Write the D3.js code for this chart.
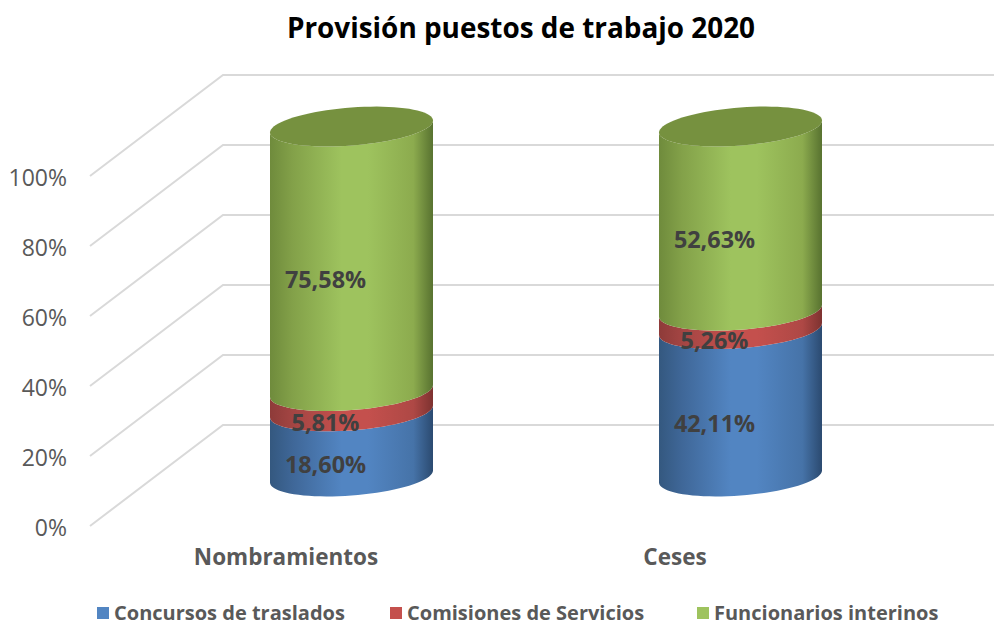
<!DOCTYPE html>
<html><head><meta charset="utf-8">
<script src="https://cdnjs.cloudflare.com/ajax/libs/d3/7.8.5/d3.min.js"></script>
<style>html,body{margin:0;padding:0;background:#fff}svg{display:block;font-family:"Open Sans","Noto Sans",sans-serif}</style>
</head><body><svg id="c" width="994" height="621"></svg>
<script>
const title = "Provisión puestos de trabajo 2020";
const categories = ["Nombramientos", "Ceses"];
const seriesNames = ["Concursos de traslados", "Comisiones de Servicios", "Funcionarios interinos"];
const traslados = [18.60, 42.11];
const comisiones = [5.81, 5.26];
const interinos = [75.58, 52.63];
const axisTicks = [0, 20, 40, 60, 80, 100];
const colors = [
  ["#34587f", "#3f6798", "#5285c2", "#5285c2", "#4673a8", "#2b4a70"],
  ["#8e3b39", "#a34543", "#c4504d", "#c4504d", "#ae4845", "#7d3230"],
  ["#6f8b3c", "#83a149", "#9ec35e", "#9ec35e", "#8cab4e", "#587230"]
];
const stopAt = [0, 0.14, 0.44, 0.6, 0.88, 1];
const topColor = "#76913f";

const svg = d3.select("#c");
const fmt = v => v.toFixed(2).replace(".", ",") + "%";
const y = d3.scaleLinear().domain([0, 100]).range([526, 176]);
const x = d3.scaleBand().domain(categories).range([157, 935]);
const depthX = 133, depthY = 101, wallLeft = 90, wallRight = 994;
const rx = x.bandwidth() * 0.2095, ry = 19, tilt = 6, lift = 49.5;

svg.append("text").attr("x", 521).attr("y", 38).attr("text-anchor", "middle")
  .attr("font-size", 27.9).attr("font-weight", 700).attr("fill", "#000").text(title);

const grid = svg.append("g").attr("fill", "none").attr("stroke", "#d9d9d9").attr("stroke-width", 2);
axisTicks.forEach(t => {
  grid.append("path").attr("d", d3.line()([
    [wallLeft, y(t)], [wallLeft + depthX, y(t) - depthY], [wallRight, y(t) - depthY]
  ]));
});

const ax = svg.append("g").attr("transform", `translate(${wallLeft - 15},7)`)
  .call(d3.axisLeft(y).tickValues(axisTicks).tickSize(0).tickPadding(8).tickFormat(d => d + "%"));
ax.select(".domain").remove();
ax.selectAll("text").attr("font-size", 23).attr("fill", "#595959")
  .attr("font-family", '"Open Sans","Noto Sans",sans-serif').attr("dy", "0.1em");

const defs = svg.append("defs");
colors.forEach((c, i) => {
  const g = defs.append("linearGradient").attr("id", "g" + i);
  stopAt.forEach((o, k) => g.append("stop").attr("offset", o).attr("stop-color", c[k]));
});

const arc = (cx, cy, rev) => {
  const ts = d3.range(0, 41).map(i => Math.PI * i / 40);
  const pts = ts.map(t => [cx + rx * Math.cos(t), cy - tilt * Math.cos(t) + ry * Math.sin(t)]);
  return rev ? pts : pts.reverse();
};
const series = [traslados, comisiones, interinos];
categories.forEach((cat, ci) => {
  const cx = x(cat) + x.bandwidth() / 2;
  let base = 0;
  series.forEach((s, si) => {
    const v0 = base, v1 = base + s[ci];
    const cy0 = y(v0) - lift, cy1 = y(v1) - lift;
    const pts = arc(cx, cy0, false).concat(arc(cx, cy1, true));
    svg.append("path").attr("d", d3.line()(pts) + "Z").attr("fill", `url(#g${si})`);
    base = v1;
  });
  const cy = y(base) - lift;
  const cap = d3.range(0, 81).map(i => {
    const t = 2 * Math.PI * i / 80;
    return [cx + rx * Math.cos(t), cy - tilt * Math.cos(t) + ry * Math.sin(t)];
  });
  svg.append("path").attr("d", d3.line()(cap) + "Z").attr("fill", topColor);
  base = 0;
  series.forEach(s => {
    const mid = base + s[ci] / 2;
    svg.append("text").attr("x", cx - 26).attr("y", y(mid) - lift + 21).attr("dy", "0.36em")
      .attr("text-anchor", "middle").attr("font-size", 23.4).attr("font-weight", 700)
      .attr("fill", "#404040").text(fmt(s[ci]));
    base += s[ci];
  });
  svg.append("text").attr("x", cx - 65.5).attr("y", 565)
    .attr("text-anchor", "middle").attr("font-size", 22.5).attr("font-weight", 700)
    .attr("fill", "#595959").text(cat);
});

const legendX = d3.scaleOrdinal().domain(seriesNames).range([97, 390, 697]);
seriesNames.forEach((n, i) => {
  svg.append("rect").attr("x", legendX(n)).attr("y", 607).attr("width", 12).attr("height", 12)
    .attr("fill", colors[i][2]);
  svg.append("text").attr("x", legendX(n) + 17).attr("y", 620)
    .attr("font-size", 20).attr("font-weight", 700).attr("fill", "#595959").text(n);
});
</script></body></html>
